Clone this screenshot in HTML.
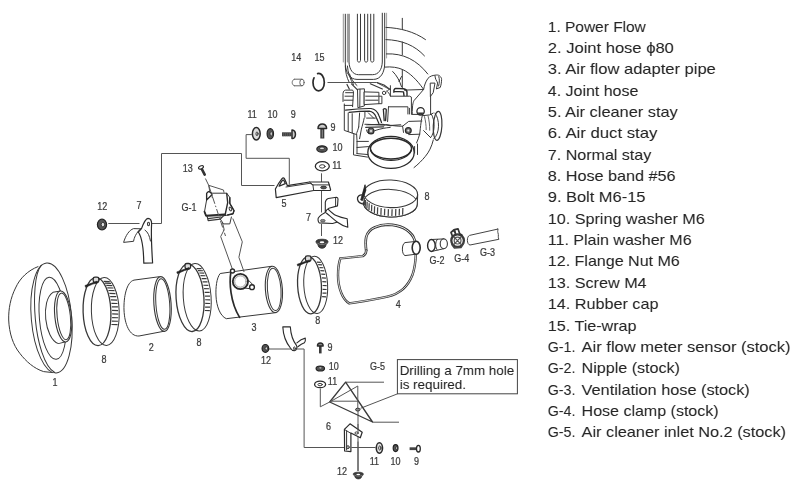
<!DOCTYPE html>
<html><head><meta charset="utf-8"><title>Parts diagram</title>
<style>
html,body{margin:0;padding:0;background:#fff;}
body{width:800px;height:492px;overflow:hidden;position:relative;font-family:"Liberation Sans",sans-serif;}
svg{position:absolute;left:0;top:0;filter:grayscale(1);}
.lst{font-family:"Liberation Sans",sans-serif;font-size:15px;fill:#262626;}
.lb{font-family:"Liberation Sans",sans-serif;font-size:10.6px;fill:#3a3a3a;stroke:#3a3a3a;stroke-width:0.25;text-anchor:middle;}
.bx{font-family:"Liberation Sans",sans-serif;font-size:12.6px;fill:#222;}
.ln{fill:none;stroke:#555;stroke-width:1;}
.th{fill:none;stroke:#383838;stroke-width:1;stroke-linejoin:round;stroke-linecap:round;}
.tw{fill:#fff;stroke:#383838;stroke-width:1;stroke-linejoin:round;stroke-linecap:round;}
.bd{fill:none;stroke:#2a2a2a;stroke-width:1.5;stroke-linejoin:round;stroke-linecap:round;}
.bw{fill:#fff;stroke:#2a2a2a;stroke-width:1.5;stroke-linejoin:round;stroke-linecap:round;}
.dk{fill:#444;stroke:#222;stroke-width:1.2;stroke-linejoin:round;stroke-linecap:round;}
.tt{fill:none;stroke:#3a3a3a;stroke-width:1.2;}
</style></head>
<body>
<svg width="800" height="492" viewBox="0 0 800 492">
<rect width="800" height="492" fill="#fff"/>

<g class="lst" opacity="0.999">
<text x="547.8" y="31.7" textLength="98" lengthAdjust="spacingAndGlyphs">1. Power Flow</text>
<text x="547.8" y="53.0" textLength="126" lengthAdjust="spacingAndGlyphs">2. Joint hose ϕ80</text>
<text x="547.8" y="74.4" textLength="168" lengthAdjust="spacingAndGlyphs">3. Air flow adapter pipe</text>
<text x="547.8" y="95.7" textLength="90.5" lengthAdjust="spacingAndGlyphs">4. Joint hose</text>
<text x="547.8" y="117.1" textLength="130" lengthAdjust="spacingAndGlyphs">5. Air cleaner stay</text>
<text x="547.8" y="138.4" textLength="109.6" lengthAdjust="spacingAndGlyphs">6. Air duct stay</text>
<text x="547.8" y="159.7" textLength="103.5" lengthAdjust="spacingAndGlyphs">7. Normal stay</text>
<text x="547.8" y="181.1" textLength="127.8" lengthAdjust="spacingAndGlyphs">8. Hose band #56</text>
<text x="547.8" y="202.4" textLength="97.6" lengthAdjust="spacingAndGlyphs">9. Bolt M6-15</text>
<text x="547.8" y="223.8" textLength="157" lengthAdjust="spacingAndGlyphs">10. Spring washer M6</text>
<text x="547.8" y="245.1" textLength="143.8" lengthAdjust="spacingAndGlyphs">11. Plain washer M6</text>
<text x="547.8" y="266.4" textLength="132" lengthAdjust="spacingAndGlyphs">12. Flange Nut M6</text>
<text x="547.8" y="287.8" textLength="98.8" lengthAdjust="spacingAndGlyphs">13. Screw M4</text>
<text x="547.8" y="309.1" textLength="110.6" lengthAdjust="spacingAndGlyphs">14. Rubber cap</text>
<text x="547.8" y="330.5" textLength="88.7" lengthAdjust="spacingAndGlyphs">15. Tie-wrap</text>
<text y="351.8"><tspan x="547.8" textLength="27.6" lengthAdjust="spacingAndGlyphs">G-1.</tspan> <tspan x="581.6" textLength="208.9" lengthAdjust="spacingAndGlyphs">Air flow meter sensor (stock)</tspan></text>
<text y="373.1"><tspan x="547.8" textLength="27.6" lengthAdjust="spacingAndGlyphs">G-2.</tspan> <tspan x="581.6" textLength="98.4" lengthAdjust="spacingAndGlyphs">Nipple (stock)</tspan></text>
<text y="394.5"><tspan x="547.8" textLength="27.6" lengthAdjust="spacingAndGlyphs">G-3.</tspan> <tspan x="581.6" textLength="168.2" lengthAdjust="spacingAndGlyphs">Ventilation hose (stock)</tspan></text>
<text y="415.8"><tspan x="547.8" textLength="27.6" lengthAdjust="spacingAndGlyphs">G-4.</tspan> <tspan x="581.6" textLength="137.0" lengthAdjust="spacingAndGlyphs">Hose clamp (stock)</tspan></text>
<text y="437.2"><tspan x="547.8" textLength="27.6" lengthAdjust="spacingAndGlyphs">G-5.</tspan> <tspan x="581.6" textLength="204.4" lengthAdjust="spacingAndGlyphs">Air cleaner inlet No.2 (stock)</tspan></text>
</g>
<g class="lb" opacity="0.999">
<text transform="translate(55.0,386.1) scale(0.85,1)">1</text>
<text transform="translate(104.0,363.1) scale(0.85,1)">8</text>
<text transform="translate(151.3,351.1) scale(0.85,1)">2</text>
<text transform="translate(199.0,346.0) scale(0.85,1)">8</text>
<text transform="translate(253.9,330.5) scale(0.85,1)">3</text>
<text transform="translate(317.8,324.2) scale(0.85,1)">8</text>
<text transform="translate(102.2,209.5) scale(0.85,1)">12</text>
<text transform="translate(139.1,208.8) scale(0.85,1)">7</text>
<text transform="translate(189.1,210.7) scale(0.85,1)">G-1</text>
<text transform="translate(187.7,172.1) scale(0.85,1)">13</text>
<text transform="translate(284.0,207.1) scale(0.85,1)">5</text>
<text transform="translate(308.5,220.8) scale(0.85,1)">7</text>
<text transform="translate(338.0,244.2) scale(0.85,1)">12</text>
<text transform="translate(252.1,118.4) scale(0.85,1)">11</text>
<text transform="translate(272.4,118.4) scale(0.85,1)">10</text>
<text transform="translate(293.2,118.4) scale(0.85,1)">9</text>
<text transform="translate(296.2,61.1) scale(0.85,1)">14</text>
<text transform="translate(319.5,61.1) scale(0.85,1)">15</text>
<text transform="translate(333.0,130.6) scale(0.85,1)">9</text>
<text transform="translate(337.5,151.2) scale(0.85,1)">10</text>
<text transform="translate(336.8,168.5) scale(0.85,1)">11</text>
<text transform="translate(427.0,200.3) scale(0.85,1)">8</text>
<text transform="translate(398.3,308.3) scale(0.85,1)">4</text>
<text transform="translate(437.0,264.4) scale(0.85,1)">G-2</text>
<text transform="translate(461.8,261.8) scale(0.85,1)">G-4</text>
<text transform="translate(487.6,256.1) scale(0.85,1)">G-3</text>
<text transform="translate(266.0,364.4) scale(0.85,1)">12</text>
<text transform="translate(330.0,351.3) scale(0.85,1)">9</text>
<text transform="translate(333.8,370.4) scale(0.85,1)">10</text>
<text transform="translate(332.5,384.5) scale(0.85,1)">11</text>
<text transform="translate(377.5,369.7) scale(0.85,1)">G-5</text>
<text transform="translate(328.4,430.0) scale(0.85,1)">6</text>
<text transform="translate(374.4,464.7) scale(0.85,1)">11</text>
<text transform="translate(395.6,464.7) scale(0.85,1)">10</text>
<text transform="translate(416.6,464.7) scale(0.85,1)">9</text>
<text transform="translate(342.1,475.4) scale(0.85,1)">12</text>
</g>
<g id="p1">
<path class="th" d="M38,266.6 C28,270.5 20,278 15.5,288 C10.5,298 8.4,309 8.7,320 C9.2,333 13,345 19.8,353.3 C26,361.5 34,368.5 43.6,371.6 L53,372.6"/>
<g transform="rotate(-5 51.5 318)">
<ellipse class="tw" cx="51.5" cy="318" rx="20.2" ry="55.2"/>
<path class="th" d="M46,264.5 C38.5,272 35.3,296 35.3,318 C35.3,340 40,366 50,372.6"/>
<ellipse class="th" cx="52.6" cy="318.4" rx="13.2" ry="41.2"/>
</g>
<g transform="rotate(-6 60 317)">
<path class="tw" d="M63.2,291.3 L55.6,291.7 C49,295 45.6,306 45.6,317.6 C45.6,329 49,340.5 55.6,343.3 L63.2,342.3 Z"/>
<ellipse class="tw" cx="63.2" cy="316.8" rx="8.3" ry="25.6" style="stroke-width:1.1"/>
<ellipse class="th" cx="63.8" cy="316.8" rx="6.6" ry="23.4"/>
</g>
</g>
<g transform="rotate(-2 97 311.7)"><ellipse class="th" cx="105.3" cy="311.7" rx="13.9" ry="34"/><ellipse class="th" cx="97" cy="311.7" rx="13.9" ry="34" style="stroke-width:1.3"/><path class="tt" d="M104.7,281.7L110.8,282.1M106.0,283.5L112.1,283.9M107.2,285.7L113.3,286.1M108.2,288.2L114.3,288.6M109.2,290.9L115.3,291.3M110.0,293.9L116.1,294.3M110.7,297.0L116.8,297.4M111.3,300.4L117.4,300.8M111.7,303.8L117.8,304.2M112.0,307.3L118.1,307.7M112.1,310.9L118.2,311.3M112.1,314.5L118.2,314.9M111.9,318.1L118.0,318.5M111.5,321.6L117.6,322.0M111.0,325.0L117.1,325.4"/></g><rect x="93.2" y="277.1" width="5.6" height="5.4" rx="1.8" fill="#ddd" stroke="#2a2a2a" stroke-width="1.3"/><path d="M97.3,281.1 L85.0,285.5 L85.6,287.3 L92.8,284.1 L97.6,282.9 Z" fill="#222" stroke="#222" stroke-width="0.6" stroke-linejoin="round"/>
<g transform="rotate(-4 190 297.8)"><ellipse class="th" cx="197.2" cy="297.8" rx="13.9" ry="33.8"/><ellipse class="th" cx="190" cy="297.8" rx="13.9" ry="33.8" style="stroke-width:1.3"/><path class="tt" d="M198.6,269.1L203.6,269.5M199.8,271.3L204.8,271.7M201.0,273.7L206.0,274.1M202.0,276.5L207.0,276.9M202.9,279.5L207.9,279.9M203.6,282.7L208.6,283.1M204.2,286.2L209.2,286.6M204.7,289.7L209.7,290.1M205.0,293.4L210.0,293.8M205.1,297.1L210.1,297.5M205.0,300.8L210.0,301.2M204.8,304.5L209.8,304.9M204.4,308.1L209.4,308.5M203.9,311.5L208.9,311.9"/></g><rect x="185.0" y="263.5" width="5.6" height="5.4" rx="1.8" fill="#ddd" stroke="#2a2a2a" stroke-width="1.3"/><path d="M189.1,267.5 L176.8,271.9 L177.4,273.7 L184.6,270.5 L189.4,269.3 Z" fill="#222" stroke="#222" stroke-width="0.6" stroke-linejoin="round"/>
<g transform="rotate(-3 309.5 285.2)"><ellipse class="th" cx="315.7" cy="285.2" rx="11.9" ry="28.7"/><ellipse class="th" cx="309.5" cy="285.2" rx="11.9" ry="28.7" style="stroke-width:1.3"/><path class="tt" d="M318.0,262.6L322.0,263.0M319.2,265.2L323.2,265.6M320.3,268.1L324.3,268.5M321.1,271.3L325.1,271.7M321.8,274.8L325.8,275.2M322.3,278.5L326.3,278.9M322.5,282.3L326.5,282.7M322.6,286.2L326.6,286.6M322.4,290.0L326.4,290.4M322.1,293.7L326.1,294.1M321.5,297.3L325.5,297.7"/></g><rect x="305.4" y="255.9" width="5.6" height="5.4" rx="1.8" fill="#ddd" stroke="#2a2a2a" stroke-width="1.3"/><path d="M309.5,259.9 L297.2,264.3 L297.8,266.1 L305.0,262.9 L309.8,261.7 Z" fill="#222" stroke="#222" stroke-width="0.6" stroke-linejoin="round"/>
<g id="p2">
<path class="th" d="M159.4,276.7 L134,280.1 C126.5,282 123.6,297 124,310 C124.6,324 129.5,336.6 139,336 L163.8,331.3"/>
<g transform="rotate(-4 162.5 304)"><ellipse class="th" cx="162.5" cy="304" rx="8.6" ry="27.4" style="stroke-width:1.1"/><ellipse class="th" cx="162.8" cy="304" rx="6.9" ry="25.4"/></g>
</g>
<g id="p3">
<path class="th" d="M271.5,266.3 L220.2,273.5 C216.5,278 215.6,288 216,296 C216.5,306 220,316 226.3,318.7 L276.3,312.6"/>
<g transform="rotate(-4 273.9 289.4)"><ellipse class="th" cx="273.9" cy="289.4" rx="8.5" ry="23.2" style="stroke-width:1.1"/><ellipse class="th" cx="274.2" cy="289.4" rx="6.8" ry="21.2"/></g>
<path class="bd" d="M230.8,272.3 C229.3,282 230,302 239.6,317.4" style="stroke-width:1.7"/>
<path class="ln" d="M222.5,222.8 L224.2,229.7 L220.7,236.6 L232.8,270.3 M232.8,218.5 L242.3,241.8 L238.9,257.3 L244.1,272"/>
<circle class="bw" cx="232.5" cy="271" r="2" style="stroke-width:1.4"/><path class="tw" d="M244,288 L251,288.8 M246.8,278.6 L252.6,284.4"/><circle class="bw" cx="252" cy="287.2" r="2.4" style="stroke-width:1.4"/><circle class="bw" cx="240.4" cy="281.5" r="7.6" style="stroke-width:1.9"/><circle class="th" cx="240.4" cy="281.5" r="5.7" style="stroke:#888;stroke-width:0.8"/>
</g>
<g id="leaders">
<path class="ln" d="M108.3,223.5 H139.5 M151.7,223.5 H161.5 V153.5 H241.5 V185.5 H274.5"/>
<path class="ln" d="M251.8,134.6 H246.1 V158.3 H289.3 V184.5"/>
<path class="ln" d="M321.5,173.3 V182 M321.5,190.8 V212.5 M321.5,224 V236"/>
<path class="ln" d="M327.5,82.5 H376.5 L389.5,89.3"/>
<path class="ln" d="M269,349 H291 M297,349 H304.1 V447.5 H344.4 M351.5,447.5 H375.5"/>
<path class="ln" d="M320.3,388.5 V406.8 L329.7,402"/>
<path class="ln" d="M358,411 V431 M358,436 V471"/>
<path class="ln" d="M345.6,382.2 H384 M372.5,422.2 H399 M397.6,393.8 L360.5,408.3"/>
</g>
<g id="g1">
<path class="bd" d="M201.6,168.6 L204.7,174.6" style="stroke-width:2.6;stroke:#333"/>
<ellipse class="bw" cx="201" cy="167.3" rx="2.6" ry="1.5" transform="rotate(-25 201 167.3)" style="stroke-width:1.1"/>
<path class="ln" d="M205.4,178.5 L208.7,185.3 L223.5,190 L224,192.7 M208.7,185.3 L209.7,191" />
<path class="tw" d="M209.2,191.6 L212,193.2 L226.7,193.2 L229.8,197.4 L229.8,203.3 L234,210.7 L233,213.8 L227.7,215 L225,215.6 L206.2,216.2 L204.5,211.7 L206.6,200 L206.6,193.7 Z"/>
<path class="bd" d="M206.6,200 L206.6,193.7 C207,192 208.2,191.5 209.2,191.6 C210.8,192 211.6,193.4 211.9,194.8 L206.6,200" style="stroke-width:1.3"/>
<path class="th" d="M211.9,194.8 L212.3,197.5"/>
<path class="bd" d="M204.5,211.7 L206,215.6 L224.5,214.4" style="stroke-width:1.8"/>
<path class="bd" d="M226.7,193.4 L227.7,202.7 L225,215.4 M229.8,197.6 V203.3 L234,210.7 L233,213.8 L227.7,215" style="stroke-width:1.4"/>
<ellipse class="th" cx="230.4" cy="209" rx="1.1" ry="2" transform="rotate(-25 230.4 209)"/>
<path class="th" d="M207.1,216.2 L208.2,220.7 L220.3,219.1 L224.2,215.2 M208,218.6 L221,217" style="stroke-width:1.2"/>
<path class="th" d="M220.3,219.1 L223.5,223.9 L229.8,223.9 L231.4,217"/>
<path class="ln" d="M208.7,185.3 L225.5,236" stroke-dasharray="7 2 1.5 2"/>
</g>
<g id="s7l">
<ellipse class="dk" cx="102" cy="224.6" rx="4.6" ry="5.4" style="fill:#555"/><ellipse cx="102.9" cy="224.6" rx="1.7" ry="2.3" fill="#ddd" stroke="#222" stroke-width="0.8"/>
<path class="tw" d="M140.6,228.8 L133.6,228.6 C129,230 125.5,236 123.6,242.4 L133.6,241.3 C134,238 136,233 140.6,228.8 Z"/>
<path class="bw" d="M141.5,228.6 C143.5,223 145.5,218.6 148,218.3 C150.3,218.3 151.8,220.5 151.6,224 C151.3,229 151.5,246 152.6,263 L143.8,263.2 C143.6,250 142.5,238 138.3,232 Z" style="stroke-width:1.2"/>
<path class="th" d="M145,230.1 C148,232 149.5,236 150.5,241"/>
<ellipse class="th" cx="148.5" cy="224" rx="1" ry="1.8" style="stroke-width:1.1"/>
</g>
<g id="s5">
<path class="bw" d="M275.4,189 C277.5,185 280.5,180.5 282,178.6 C282.8,177.6 283.8,177.6 284.4,178.6 C285.6,180.8 286.6,183.4 287.3,185.7 L309.6,182 L328.4,182 L330.6,189.6 L330.2,190.5 L313.7,190.5 L276.2,197.6 Z" style="stroke-width:1.2"/>
<path class="th" d="M286,187 L310,183.3 L312.9,184.9 H329.6 M312.9,184.9 L313.7,190.6 M309.6,182 L312.9,184.9"/>
<path class="bd" d="M279.1,186.2 C280,184 281.4,181.6 282.4,180.3 C283,179.8 283.6,180 284,180.8 L285.3,183.6 Z" style="stroke-width:1.2"/>
<ellipse cx="323.6" cy="187.5" rx="3" ry="1.4" fill="#555" stroke="#2a2a2a" stroke-width="0.8"/>
</g>
<g id="hwtl">
<ellipse class="bw" cx="256.3" cy="133.8" rx="3.9" ry="6.2" style="fill:#ddd"/><ellipse class="tw" cx="257" cy="133.8" rx="1" ry="1.9"/>
<ellipse class="dk" cx="270.3" cy="133.8" rx="3.2" ry="5.2" style="fill:#555"/><ellipse cx="271.2" cy="133.8" rx="1.2" ry="2.2" fill="#ddd" stroke="#222" stroke-width="0.8"/>
<path d="M282,134.3 H291.5" stroke="#444" stroke-width="4" fill="none"/><path d="M283.5,132.3 v4 M285.5,132.3 v4 M287.5,132.3 v4 M289.5,132.3 v4" stroke="#777" stroke-width="0.4"/>
<path d="M292,130 C296.6,129.6 296.6,139 292,138.6 Z" fill="#ccc" stroke="#2a2a2a" stroke-width="1.5" stroke-linejoin="round"/>
</g>
<g id="c1415">
<path class="th" d="M294.5,79.2 H302 M294.5,85.8 H302 M294.5,79.2 C291.3,79.6 291.3,85.4 294.5,85.8" style="stroke:#666"/><ellipse class="th" cx="302" cy="82.5" rx="2.2" ry="3.3" style="stroke:#666"/>
<path class="bd" d="M317.6,73.6 C321,72.5 324.3,76.5 324.3,82.5 C324.3,88 321.5,90.8 318.6,90.8 C315.6,90.8 313,87.6 313,82.5 C313,80.6 313.4,79 314,77.8" style="stroke-width:1.7"/>
</g>
<g id="hwr">
<path d="M322.3,127.5 V138.5" stroke="#3a3a3a" stroke-width="4" fill="none"/><path d="M322.3,129.5 V137.5" stroke="#999" stroke-width="0.9" fill="none"/><path d="M318.0,128.5 C317.7,122.5 326.90000000000003,122.5 326.6,128.5 Z" fill="#ccc" stroke="#2a2a2a" stroke-width="1.5" stroke-linejoin="round"/>
<ellipse class="dk" cx="322" cy="149" rx="5.2" ry="3.2" style="fill:#555"/><ellipse cx="322" cy="148.4" rx="2.3" ry="1.3" fill="#ddd" stroke="#222" stroke-width="0.7"/>
<ellipse class="bw" cx="322.3" cy="166.2" rx="7" ry="4.6" style="stroke-width:1.3"/><ellipse class="th" cx="322.3" cy="166.39999999999998" rx="2.8" ry="1.7"/>
</g>
<g id="s7r">
<path class="bw" d="M325.3,212.6 L325.3,202.2 C326,199.5 327,198.8 328.3,198.5 L336.5,197.2 C337.6,197.3 338,198 338,199.1 L337.5,205.9 L328.9,208.3 C327,209 326,210.5 325.3,212.6 Z" style="stroke-width:1.1"/>
<path class="th" d="M335.6,198.3 V205.6"/>
<path class="bw" d="M325.3,212.6 C322.5,214 321,215 319.8,216.2 C318.3,217.6 317.8,219 318,219.9 C318.2,221.5 318.6,222.4 319.2,222.9 L332.6,223.5 L337.5,221.9" style="stroke-width:1.1"/>
<path class="bw" d="M328.3,209.3 C331,212 333,214 336.2,215.6 C340,217.4 343.5,218.2 347.2,218.7 L347.8,227.2 C343.5,226 340.5,224.6 337.5,222.3 C334.5,220 332.5,218.2 330.1,216.2 C328.5,214.8 327.3,213.8 326.3,213" style="stroke-width:1.1"/>
<ellipse cx="322.8" cy="220.7" rx="2.4" ry="1.3" fill="#888" stroke="#444" stroke-width="0.7"/>
<path d="M316,241.6 C316,238.4 328,238.4 328,241.6 C328,243 326.6,244 326.2,244.6 L325.2,247 C323.4,248.7 320.6,248.7 318.8,247 L317.8,244.6 C317.4,244 316,243 316,241.6 Z" fill="#3c3c3c" stroke="#2a2a2a" stroke-width="0.8" stroke-linejoin="round"/><path d="M317.4,243.2 C320,245 324,245 326.6,243.2" fill="none" stroke="#aaa" stroke-width="0.6"/><ellipse cx="322" cy="242.2" rx="2.3" ry="1" fill="#fff"/>
</g>
<g id="clampT" transform="rotate(2 390.5 198)">
<ellipse class="th" cx="390.5" cy="203.20000000000002" rx="27" ry="13.8"/>
<path d="M363.5,193.8 A27,13.8 0 0 0 417.5,193.8 V203.20000000000002 A27,13.8 0 0 1 363.5,203.20000000000002 Z" fill="#fff" stroke="none"/>
<ellipse class="th" cx="390.5" cy="193.8" rx="27" ry="13.8" style="stroke-width:1.1"/>
<path class="th" d="M363.5,203.20000000000002 A27,13.8 0 0 0 417.5,203.20000000000002 V193.8" style="stroke-width:1.1"/>
<path class="tt" d="M364.4,199.0v6.8M365.6,200.8v6.8M367.3,202.5v6.8M369.4,204.0v6.8M372.0,205.4v6.8M374.9,206.7v6.8M378.0,207.6v6.8M381.5,208.4v6.8M385.1,208.9v6.8M388.8,209.2v6.8M392.5,209.2v6.8M396.2,208.9v6.8M399.8,208.4v6.8M403.2,207.6v6.8" style="stroke-width:1.25;stroke:#444"/>
<path d="M364.6,185.6 L365.6,191 L362.6,201.5 L360.8,201 Z" fill="#222" stroke="#222" stroke-width="0.8" stroke-linejoin="round"/>
<path class="bd" d="M363,196 C359,195.6 357,198 357.6,200.6 C358.2,203 360.5,204.6 363.5,205" style="stroke-width:1.3"/>
</g>
<g id="elbow">
<path d="M366.2,250.5 C365.6,246 365.4,241 366.2,237 C367.5,232.5 370,229.5 374.5,227.5 C379,225.4 383.5,224.6 388,224.6 C394,224.8 399,225.8 403.5,228 C408,230.4 411.5,233.5 413.4,237 C414.6,239.5 415.2,241.5 415.4,243.5" fill="none" stroke="#333" stroke-width="2.7" stroke-linecap="round"/>
<path d="M366.2,250.5 C365.6,246 365.4,241 366.2,237 C367.5,232.5 370,229.5 374.5,227.5 C379,225.4 383.5,224.6 388,224.6 C394,224.8 399,225.8 403.5,228 C408,230.4 411.5,233.5 413.4,237 C414.6,239.5 415.2,241.5 415.4,243.5" fill="none" stroke="#fff" stroke-width="0.9" stroke-linecap="round"/>
<path d="M415.8,253.5 C415.6,262 414.6,269 412.3,275.3 C410,281 407,285.5 403.3,288.8 C398.5,293 393,295.3 387.5,296.6 C376,299.3 362,301.4 349.3,303.4 C346,301.5 343.3,298 341.4,293.3 C339.2,288 338,281.5 338,275.3 C338,269 338.8,263 340.3,258.4 C347,257.6 356,256.8 362.8,256.1 C365,255 366.2,253 366.2,250.5" fill="none" stroke="#333" stroke-width="2.4" stroke-linecap="round"/>
<path d="M415.8,253.5 C415.6,262 414.6,269 412.3,275.3 C410,281 407,285.5 403.3,288.8 C398.5,293 393,295.3 387.5,296.6 C376,299.3 362,301.4 349.3,303.4 C346,301.5 343.3,298 341.4,293.3 C339.2,288 338,281.5 338,275.3 C338,269 338.8,263 340.3,258.4 C347,257.6 356,256.8 362.8,256.1 C365,255 366.2,253 366.2,250.5" fill="none" stroke="#fff" stroke-width="0.8" stroke-linecap="round"/>
<path class="tw" d="M416,241.4 L405,242.6 C401.6,244 401.4,254.2 405,255.6 L416,254.2 Z"/>
<ellipse class="bw" cx="416.2" cy="247.8" rx="4" ry="6.5" style="stroke-width:1.6"/>
</g>
<g id="g2">
<path class="tw" d="M431.4,239.6 L443.8,238.8 L443.8,248.8 L431.4,251.4 Z" style="stroke:none"/>
<path class="th" d="M431.4,239.5 L443.8,238.9 M431.4,251.5 L443.8,248.7"/>
<ellipse class="tw" cx="443.8" cy="243.8" rx="3.6" ry="4.9" style="stroke-width:1.1"/>
<path class="th" d="M437.5,239.3 C435,241 435,248.5 437.5,250.2"/>
<ellipse class="bw" cx="431.4" cy="245.5" rx="3.8" ry="6" style="stroke-width:1.4"/>
</g>
<g id="g4">
<circle class="bd" cx="457.6" cy="240.6" r="6.3" style="stroke-width:2.3;stroke:#3a3a3a"/>
<circle class="th" cx="457.6" cy="240.6" r="3.4" style="stroke:#555;stroke-width:1.2"/>
<path class="th" d="M454,237 L461,244.4 M461,237 L454,244.4" style="stroke:#555;stroke-width:1.1"/>
<path class="bd" d="M452.6,236.6 L451,232.4 L453.8,230 L455.6,233.8 M455.6,234.4 L454.6,229.6 L458,228.8 L459.6,233.6 M459.6,233.6 L461.8,235" style="stroke-width:1.7;stroke:#333"/>
<path class="bd" d="M451.8,244.6 L454.4,248 L461,247.6 L463.6,243.4" style="stroke-width:1.5;stroke:#444"/>
</g>
<g id="g3">
<path class="th" d="M497.8,229.1 L469.5,235.4 C466.6,236.4 466.6,244.6 470,245 L498.9,239.3 C497.6,237.5 499,235 497.9,232.6 C497.3,231.2 498.4,230 497.8,229.1 Z" style="stroke:#444"/>
</g>
<g id="manifold">
<path class="th" d="M343.3,14.2 V62 M347.4,14.2 V62" style="stroke:#777;stroke-width:0.8"/>
<path class="th" d="M345.3,14.2 V64 C345.6,72.6 350,79.4 357,79.4 H373.5 C380.6,79.4 384.4,72.6 384.7,64 V13.2"/>
<path class="th" d="M349,14.2 V62 C349.3,69.6 353,74.7 358.5,74.7 H372.5 C378.5,74.7 382,69.6 382.3,62 V13.2"/>
<path class="th" d="M386.6,13.2 V58" style="stroke:#888;stroke-width:0.8"/>
<path class="th" d="M357.4,14.2 V60.5 C357.4,62.6 360.5,62.6 360.5,60.5 V14.2"/>
<path class="th" d="M364.6,14.2 V60.5 C364.6,62.6 367.70000000000005,62.6 367.70000000000005,60.5 V14.2"/>
<path class="th" d="M370.7,14.2 V60.5 C370.7,62.6 373.8,62.6 373.8,60.5 V14.2"/>
<path class="th" d="M402.3,18.3 V29.6 M402.3,42 V54.6 M402.3,69.6 V88.4"/>
<path class="th" d="M385.9,27.4 C400,28 414,31.5 425.5,39.6 M385.9,39.6 C402,40 415,45.5 424.5,55.9 M386.4,53.9 C403,53 417,60 427.8,74 M392.7,71.5 C396.5,75 399.5,80.5 401.5,86.6 M401.5,76.5 L399,81.6"/>
<path class="th" d="M345.3,66 C345.5,72 346.5,77 349,82 M347.4,66 C348,73 350,79 353.5,84.5 M349.5,74 C351,79 354,83 357,85.5"/>
</g>
<g id="tb">
<path class="th" d="M404.4,90.1 L423.6,89.5 C424.3,86 425.3,82 428,78.3 C430,76.2 432.5,75.4 435,75.2 C437,74.8 438.6,75 439.4,75.7 C441,77 441.8,78.4 441.6,79.6 C441.5,82.5 441,85.5 440.2,87.5 L436.7,88.8 M435,76.1 C435.2,77.5 435.5,78.6 435.9,79.6 C436.6,80.6 437.2,82 437.6,83.1 L436.5,88.6 M438.8,76.6 C439.6,79 439.6,82.5 438.6,86"/>
<path class="th" d="M430.6,83.1 H435 L433.2,92.7 L430.6,96.2 Z M430.6,96.2 V113.6"/>
<path class="th" d="M423.6,89.5 L414,100.6 C412.8,103 412.3,106 412.2,114"/>
<path class="th" d="M384.6,67.1 C392,66.4 398,67.5 402.7,69.6 C410,73 417,80 423.2,88.8"/>
<path class="th" d="M343,101.5 V93.6 C343.3,91 344.3,90.3 345.6,90.1 H352.6 L353.5,91.9 L352.6,106.7 M344.3,104 V130.4 L356.1,134.4 M345.6,92.7 H352.6 M345,96.2 H352.8 M344,100.2 H352.8 M344.3,105.4 H352.6 M348.2,113 V131.5 M352.2,113.7 V133"/>
<path class="th" d="M347,84.5 L349.3,89 M351.5,83.8 L357.5,89.8" style="stroke-width:1.2"/>
<path class="tw" d="M357.9,89.2 L364.4,88.8 V105.9 L358.3,107.6 Z"/>
<path class="th" d="M360,89.2 L359.8,107"/>
<path class="tw" d="M364.4,91.9 L378.9,92.3 V103.7 L364.4,104.6 Z"/>
<path class="th" d="M365.7,96.2 H378 M365.7,100.2 H378 M378.9,96.2 H381.9 V103.7 H378.9"/>
<circle class="th" cx="384.1" cy="92.9" r="1.7"/>
<path class="th" d="M370.3,83.8 L382.4,89 M377.1,82.6 L384,85 L390.4,89.6" style="stroke-width:1.1"/>
<path class="th" d="M387.6,90.6 L389.4,89.2 M390.4,85.7 V96.2 H409.6 L411.4,97.1 V114.4 H421 M388.6,106.8 H407.9 V114 M388.5,106.7 L387.6,121.6 M409.4,108.3 V114 M386.5,91 C388,91.5 389.4,93.5 390.4,96.2"/>
<path class="bd" d="M393.9,92.2 C393.7,90.4 394.5,88.6 395.6,88.4 L403.5,88.8 C405.5,89.2 406.8,90.4 407,91.9 V95.6 M394.6,91.4 L403.5,91.9 L404,95.6" style="stroke-width:1.4"/>
<path class="bd" d="M345.6,110.2 C354,109 363,108.4 371,108.5 C375.5,109.2 377.6,112 378.9,115.5 C380,118 380.8,120.2 381.5,122.5 M349.1,112.4 C356,111.6 363,111.1 369.2,111.1 C373,111.6 375,114 376.2,117.2 C377.2,119.6 378,121.4 378.9,123.4" style="stroke-width:1.2"/>
<path class="th" d="M364.9,111.3 V117.2 M368.4,112.9 L373.6,118.1 M366.6,118.1 H375.4 M359.6,112.9 L358.7,127 M364.2,118 C363.4,122 362.2,126 361.4,129.1 L359.6,138.7"/>
<path class="bd" d="M383.2,109.6 C383.4,108.2 386.1,108.2 386.3,109.6 L385.6,120.6 M383.4,110 L384.2,120.6" style="stroke-width:1.3"/>
<circle cx="420.6" cy="111.3" r="3.7" fill="#fff" stroke="#2a2a2a" stroke-width="1.3"/><path d="M417.3,112.6 A3.6,3.6 0 0 0 423.9,112.6 Z" fill="#333"/>
<path class="th" d="M422.3,115.7 L429.7,114.9 L433.2,113.1 M422.3,115.7 C421.3,119 420.6,126 419.7,134.1 C418.8,137.5 417.8,140 416.6,142.9 M423.6,130.6 L430.6,137.6"/>
<path class="th" d="M424.5,116.6 C425.6,121 426.2,125.5 426.2,129.7 M428,115.7 C429.2,120.5 429.8,125.5 429.7,130.2" style="stroke:#666"/>
<ellipse class="th" cx="437.6" cy="125.8" rx="4.3" ry="14.5" transform="rotate(3 437.6 125.8)" style="stroke-width:1.2"/>
<path class="th" d="M435,113.1 C437.3,116 438.6,121 438.5,126.2 C438.4,131.5 436.6,136.5 433.7,138.9 M431.5,114.4 C433.3,117.5 434.2,122 434.1,126.2 C434,131 432.7,135.4 430.6,137.6"/>
<path class="th" d="M364.9,124.2 L385,125.1 M366.6,124.7 L382.4,124.3 L390.2,125.6 L400.7,124.7 M365.7,127.4 L383.7,126.9" style="stroke-width:1.1"/>
<path class="th" d="M386,124.6 C392,125.6 398,126.4 402.6,126.2 L408.7,121.4 L421.9,121 M403.5,132.4 L402.6,126.2 M408.7,134.6 L419.8,134.2"/>
<path class="th" d="M366.6,130 C367,132 367.6,133 368.4,133.5 C372,131.5 380,128.2 390.2,127.4"/>
<circle cx="371" cy="130.9" r="2.9" fill="#777" stroke="#2a2a2a" stroke-width="1.2"/><circle cx="408.3" cy="130.6" r="2.9" fill="#777" stroke="#2a2a2a" stroke-width="1.2"/>
<circle cx="371" cy="130.9" r="1" fill="#eee"/><circle cx="408.3" cy="130.6" r="1" fill="#eee"/>
<path class="th" d="M353.9,134.4 L353.5,154.9 L367.5,157.1 M358.7,127 C358,130 357,132 356.6,133.5 L357,140.5 M357,141.4 H368.4 M357,147.5 L368.4,146.6 M357,153.6 L367.5,154.5 M357,141.4 V153.6"/>
<path class="th" d="M417.5,144 V154.5 M414.6,146.5 V153"/>
<path class="th" d="M433.3,140 C431.5,147 429,152 425.4,156.3 C422,160.5 418,164.5 414,167.6"/>
<ellipse class="bw" cx="391" cy="152.4" rx="23.2" ry="16" style="stroke-width:1.3"/>
<ellipse class="bd" cx="391" cy="148.6" rx="20.6" ry="10.4" style="stroke-width:1.5"/>
<path class="bd" d="M370.8,150 C372.5,156 381,160.4 391,160.4 C401,160.4 409.5,156 411.2,150" style="stroke-width:1.2"/>
</g>
<g id="bot">
<ellipse class="dk" cx="265.4" cy="348.4" rx="3.3" ry="3.9" style="fill:#555"/><ellipse cx="266.29999999999995" cy="348.4" rx="1.2" ry="1.6" fill="#ddd" stroke="#222" stroke-width="0.8"/>
<path class="bw" d="M282.8,326.9 L290.3,326.9 C290.8,334 292.5,340.5 296.6,345.6 C297.4,347.6 296.6,350.2 294.4,350.8 C292.4,350.8 291.3,349.6 290.4,348 C285.6,342 283.2,334.5 282.8,326.9 Z" style="stroke-width:1.1"/>
<path class="bw" d="M296.9,342.8 C299.5,340.4 302,338.8 305.3,338.1 C305.6,340 305.2,341.6 304.4,342.8 C302,343.6 300,345 297.8,346.8" style="stroke-width:1.1"/>
<ellipse class="th" cx="294.4" cy="348.4" rx="0.9" ry="1.5"/>
<path d="M320.3,345 V353.4" stroke="#3a3a3a" stroke-width="2.6" fill="none"/><path d="M317.4,346 C317.4,342 323.2,342 323.2,346 Z" fill="#888" stroke="#2a2a2a" stroke-width="1.3" stroke-linejoin="round"/>
<ellipse class="dk" cx="320.3" cy="368.5" rx="4.2" ry="2.5" style="fill:#555"/><ellipse cx="320.3" cy="367.9" rx="1.9" ry="1.0" fill="#ddd" stroke="#222" stroke-width="0.7"/>
<ellipse class="bw" cx="320.1" cy="384.4" rx="5.5" ry="3.2" style="stroke-width:1.3"/><ellipse class="th" cx="320.1" cy="384.59999999999997" rx="2.2" ry="1.2"/>
<path class="bd" d="M345.6,382.2 L329.7,402 L372.5,422 Z" style="stroke-width:1.35;stroke:#3a3a3a"/>
<path class="ln" d="M329.7,402 L357.8,386 V408 M330.6,401.2 H357.8"/>
<ellipse cx="357.8" cy="409.6" rx="2.3" ry="1.4" fill="#888" stroke="#333" stroke-width="1"/>
<path class="bw" d="M344.4,429.4 L350,423.8 L362.2,432.2 L360.3,437.8 L350.9,433 L350.9,451.6 L344.6,451 Z" style="stroke-width:1.2"/>
<path class="th" d="M344.4,429.4 L350.9,433.4 M346.6,431 V450"/>
<ellipse class="th" cx="356.6" cy="433" rx="1.7" ry="1.1"/><ellipse class="th" cx="348" cy="447.2" rx="1.2" ry="1.6"/>
<path class="ln" d="M358,424 V432 M358,441.6 V471"/>
<ellipse class="bw" cx="379.4" cy="448" rx="3.1" ry="5.2" style="stroke-width:1.6;fill:#e4e4e4"/><ellipse class="tw" cx="379.8" cy="448" rx="1.1" ry="2.1"/>
<ellipse class="dk" cx="395.6" cy="448.1" rx="2.4" ry="3.5" style="fill:#555"/><ellipse cx="396.5" cy="448.1" rx="0.9" ry="1.5" fill="#ddd" stroke="#222" stroke-width="0.8"/>
<path d="M409.6,448.7 H416.5" stroke="#444" stroke-width="2.8" fill="none"/><ellipse class="bw" cx="418.4" cy="448.7" rx="1.9" ry="3.3" style="stroke-width:1.3"/>
<g transform="translate(358.3,475) scale(0.85,0.75)"><path d="M-6,-1.4 C-6,-4.6 6,-4.6 6,-1.4 C6,0 4.6,1 4.2,1.6 L3.2,4 C1.4,5.7 -1.4,5.7 -3.2,4 L-4.2,1.6 C-4.6,1 -6,0 -6,-1.4 Z" fill="#3c3c3c" stroke="#2a2a2a" stroke-width="0.8" stroke-linejoin="round"/><path d="M-4.6,0.2 C-2,2 2,2 4.6,0.2" fill="none" stroke="#aaa" stroke-width="0.6"/><ellipse cx="0" cy="-0.8" rx="2.3" ry="1" fill="#fff"/></g>
</g>
<g id="box">
<rect x="397.4" y="359.6" width="120" height="34.2" fill="#fff" stroke="#444" stroke-width="1"/>
<text class="bx" x="399.7" y="374.5" textLength="114.4" lengthAdjust="spacingAndGlyphs">Drilling a 7mm hole</text>
<text class="bx" x="399.7" y="388.5" textLength="66.3" lengthAdjust="spacingAndGlyphs">is required.</text>
</g>
</svg>
</body></html>
